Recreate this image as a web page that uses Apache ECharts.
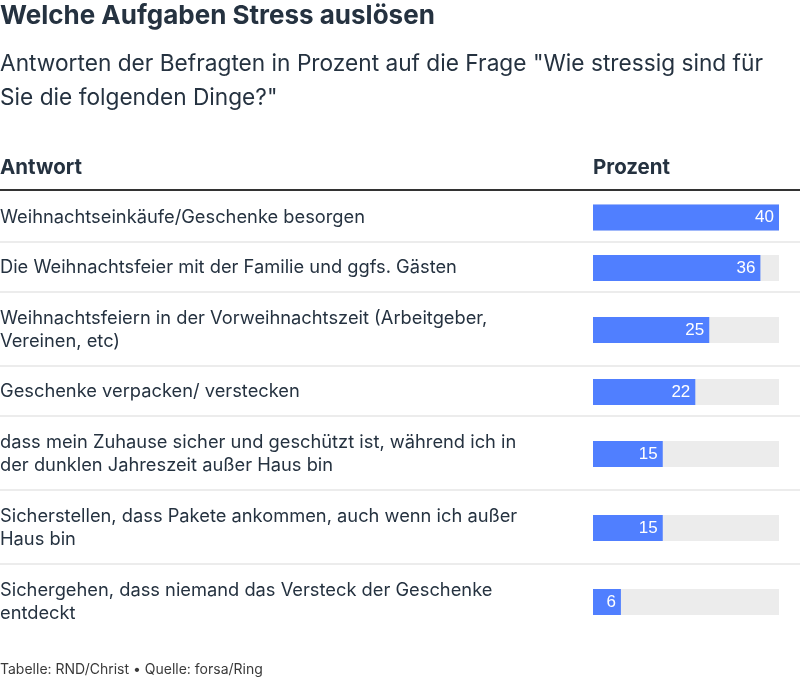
<!DOCTYPE html>
<html><head><meta charset="utf-8">
<script src="https://cdn.jsdelivr.net/npm/echarts@6/dist/echarts.min.js"></script>
<style>html,body{margin:0;padding:0;background:#fff}#c{width:800px;height:684px}</style>
</head><body><div id="c"></div>
<script>
const title = 'Welche Aufgaben Stress auslösen';
const subtitle = 'Antworten der Befragten in Prozent auf die Frage "Wie stressig sind für\nSie die folgenden Dinge?"';
const headers = ['Antwort', 'Prozent'];
const categories = [
  'Weihnachtseinkäufe/Geschenke besorgen',
  'Die Weihnachtsfeier mit der Familie und ggfs. Gästen',
  'Weihnachtsfeiern in der Vorweihnachtszeit (Arbeitgeber,\nVereinen, etc)',
  'Geschenke verpacken/ verstecken',
  'dass mein Zuhause sicher und geschützt ist, während ich in\nder dunklen Jahreszeit außer Haus bin',
  'Sicherstellen, dass Pakete ankommen, auch wenn ich außer\nHaus bin',
  'Sichergehen, dass niemand das Versteck der Geschenke\nentdeckt'
];
const values = [40, 36, 25, 22, 15, 15, 6];
const footer = 'Tabelle: RND/Christ \u2022 Quelle: forsa/Ring';

const TEXT = '#253240';
const FONT = 'Inter, "Noto Sans", sans-serif';
const headerLineY = 190;
const oneLineH = 51, twoLineH = 74;
const barLeft = 593, barW = 186, barH = 26;

const graphics = [];
const grids = [], xAxes = [], yAxes = [], series = [];

graphics.push({type:'text', left:0, top:3, style:{text:title, font:'bold 26px '+FONT, fill:TEXT}});
graphics.push({type:'text', left:0, top:47, style:{text:subtitle, font:'22.7px '+FONT, fill:TEXT, lineHeight:34}});
graphics.push({type:'text', left:0, top:157, style:{text:headers[0], font:'bold 20.5px '+FONT, fill:TEXT}});
graphics.push({type:'text', left:barLeft, top:157, style:{text:headers[1], font:'bold 20.5px '+FONT, fill:TEXT}});
graphics.push({type:'rect', shape:{x:0, y:headerLineY-1, width:800, height:2}, style:{fill:'#333'}});

let y = headerLineY + 1;
categories.forEach((c, i) => {
  const lines = c.split('\n').length;
  const h = lines > 1 ? twoLineH : (i === 0 ? oneLineH : 50);
  const center = y + h / 2;
  graphics.push({type:'text', x:0, y:center + 1, style:{text:c, font:'18.3px '+FONT, fill:TEXT, lineHeight:23, verticalAlign:'middle'}});
  if (i < categories.length - 1) {
    graphics.push({type:'rect', shape:{x:0, y:y + h - 1, width:800, height:2}, style:{fill:'#ececec'}});
  }
  grids.push({left:barLeft, width:barW, top:center - barH/2 + 1, height:barH});
  xAxes.push({type:'value', gridIndex:i, min:0, max:40, show:false});
  yAxes.push({type:'category', gridIndex:i, data:[c], show:false});
  series.push({
    type:'bar', xAxisIndex:i, yAxisIndex:i, data:[values[i]], barWidth:barH,
    showBackground:true, backgroundStyle:{color:'#ececec'},
    itemStyle:{color:'#507fff'}, silent:true,
    label:{show:true, position:'insideRight', distance:5, color:'#fff', fontSize:17, fontFamily:'"Liberation Sans", Arial, sans-serif'}
  });
  y += h;
});
graphics.push({type:'text', left:0, top:663, style:{text:footer, font:'14px '+FONT, fill:'#3a3a3a'}});

const chart = echarts.init(document.getElementById('c'));
chart.setOption({animation:false, grid:grids, xAxis:xAxes, yAxis:yAxes, series:series, graphic:graphics});
</script></body></html>
